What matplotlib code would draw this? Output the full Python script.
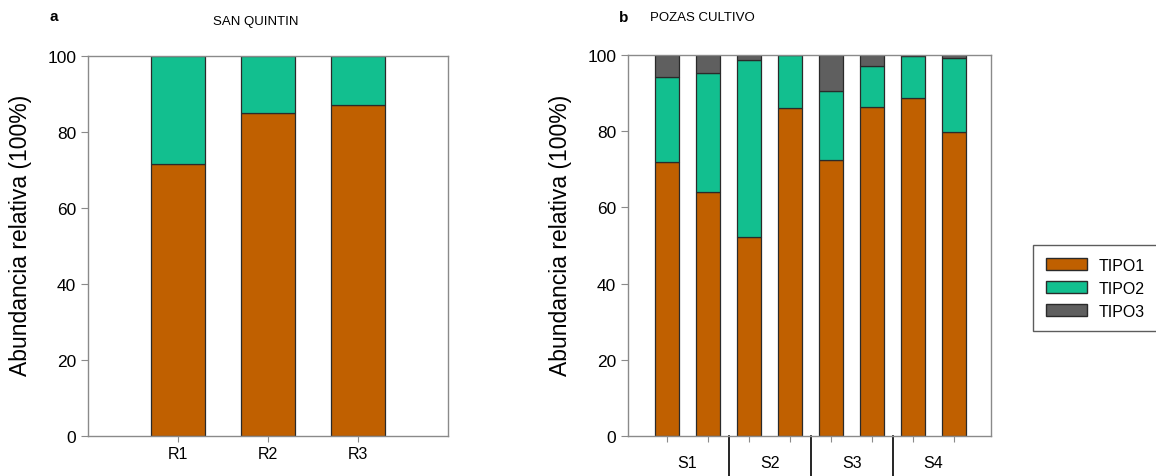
import numpy as np
import matplotlib.pyplot as plt
import matplotlib.transforms as mtransforms
from matplotlib.patches import Patch

plt.rcParams['font.family'] = ['Liberation Sans', 'DejaVu Sans']

# data
sq_labels = ['R1', 'R2', 'R3']
sq_tipo1 = [71.5, 85.0, 87.0]
sq_tipo2 = [28.5, 15.0, 13.0]

pc_groups = ['S1', 'S2', 'S3', 'S4']
pc_tipo1 = [71.8, 63.9, 52.1, 86.0, 72.5, 86.3, 88.6, 79.7]
pc_tipo2 = [22.3, 31.3, 46.5, 13.9, 17.9, 10.7, 11.0, 19.6]
pc_tipo3 = [5.9, 4.8, 1.4, 0.1, 9.6, 3.0, 0.4, 0.7]

c1 = '#c06000'
c2 = '#12bf8f'
c3 = '#5f5f5f'
edge = '#2a2a2a'
spine_c = '#8a8a8a'

fig = plt.figure(figsize=(11.56, 4.77), dpi=100)
ax1 = fig.add_axes([0.0761, 0.0839, 0.3114, 0.7966])
ax2 = fig.add_axes([0.5433, 0.0839, 0.3140, 0.7990])

# panel a
x1 = np.arange(1, len(sq_labels) + 1)
ax1.bar(x1, sq_tipo1, width=0.6, color=c1, edgecolor=edge, linewidth=0.9)
ax1.bar(x1, sq_tipo2, width=0.6, bottom=sq_tipo1, color=c2, edgecolor=edge, linewidth=0.9)
ax1.set_xlim(0, 4)
ax1.set_xticks(x1)
ax1.set_xticklabels(sq_labels, fontsize=11.5)

# panel b
x2 = np.arange(1, len(pc_tipo1) + 1)
ax2.bar(x2, pc_tipo1, width=0.6, color=c1, edgecolor=edge, linewidth=0.9)
bot = np.array(pc_tipo1) + np.array(pc_tipo2)
ax2.bar(x2, pc_tipo2, width=0.6, bottom=pc_tipo1, color=c2, edgecolor=edge, linewidth=0.9)
ax2.bar(x2, pc_tipo3, width=0.6, bottom=bot, color=c3, edgecolor=edge, linewidth=0.9)
ax2.set_xlim(0.05, 8.9)
ax2.set_xticks(x2)
ax2.set_xticklabels([])

# group labels and separators
trans = mtransforms.blended_transform_factory(ax2.transData, ax2.transAxes)
for i, g in enumerate(pc_groups):
    ax2.text(2 * i + 1.5, -0.07, g, transform=trans, ha='center', va='center', fontsize=11.5)
    if i > 0:
        ax2.plot([2 * i + 0.5, 2 * i + 0.5], [0, -0.11], transform=trans,
                 color='k', linewidth=1.2, clip_on=False)

for ax in (ax1, ax2):
    ax.set_ylim(0, 100)
    ax.set_yticks([0, 20, 40, 60, 80, 100])
    ax.tick_params(axis='y', labelsize=12.5, length=5, color=spine_c)
    ax.tick_params(axis='x', length=4, color=spine_c)
    for s in ax.spines.values():
        s.set_color(spine_c)
        s.set_linewidth(1.0)
    ax.set_ylabel('Abundancia relativa (100%)', fontsize=16.5)

ax1.yaxis.set_label_coords(-0.155, 0.53)
ax2.yaxis.set_label_coords(-0.155, 0.53)

fig.text(0.043, 0.965, 'a', fontsize=11, fontweight='bold', va='center')
fig.text(0.221, 0.953, 'SAN QUINTIN', fontsize=9.5, ha='center', va='center')
fig.text(0.535, 0.962, 'b', fontsize=11, fontweight='bold', va='center')
fig.text(0.608, 0.962, 'POZAS CULTIVO', fontsize=9.5, ha='center', va='center')

fig.legend(handles=[Patch(facecolor=c1, edgecolor=edge, label='TIPO1'),
                    Patch(facecolor=c2, edgecolor=edge, label='TIPO2'),
                    Patch(facecolor=c3, edgecolor=edge, label='TIPO3')],
           loc='center left', bbox_to_anchor=(0.8935, 0.394), borderaxespad=0,
           fontsize=11.5, frameon=True, fancybox=False, edgecolor='#333333',
           handlelength=2.6, handleheight=0.8, handletextpad=0.7,
           borderpad=0.8, labelspacing=0.5)

fig.savefig('out.png', dpi=100)
